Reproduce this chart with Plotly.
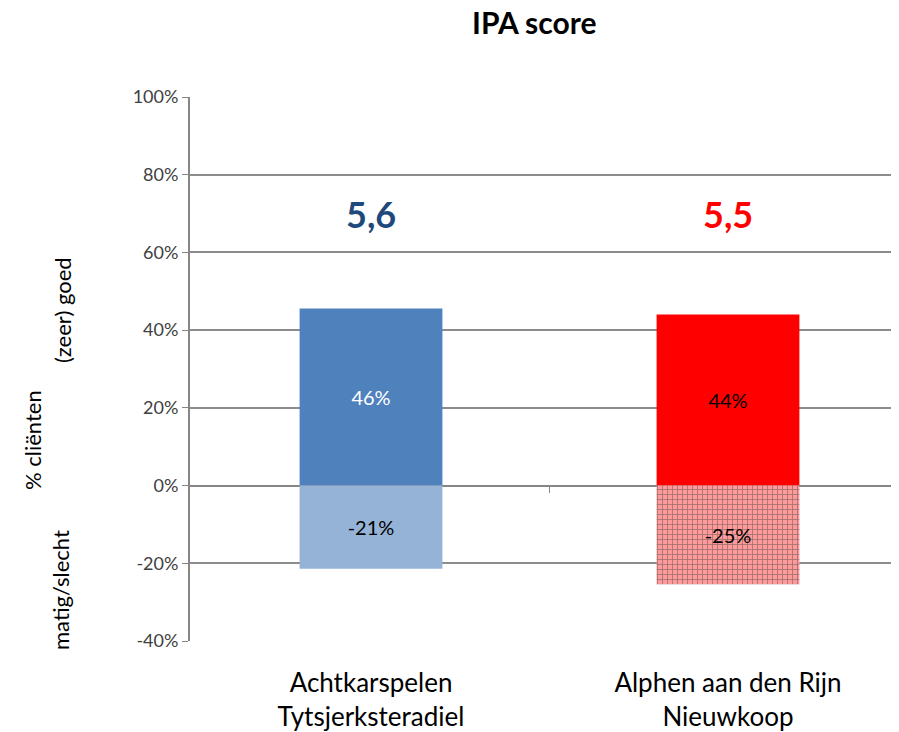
import plotly.graph_objects as go

categories = ["Achtkarspelen<br>Tytsjerksteradiel", "Alphen aan den Rijn<br>Nieuwkoop"]
positive = [45.6, 44.0]
negative = [-21.4, -25.4]
positive_labels = ["46%", "44%"]
negative_labels = ["-21%", "-25%"]
scores = ["5,6", "5,5"]
score_level = [70, 70]
ytick_vals = [-40, -20, 0, 20, 40, 60, 80, 100]
ytick_text = ["-40%", "-20%", "0%", "20%", "40%", "60%", "80%", "100%"]
chart_title = "IPA score"

xpos = list(range(len(categories)))
FONT = "Lato"
W, H = 891, 724

fig = go.Figure()
fig.add_trace(go.Bar(
    x=xpos, y=positive, width=0.4,
    marker=dict(color=["#4F81BD", "#FF0000"], line=dict(width=0)),
    text=positive_labels, textposition="inside", insidetextanchor="middle",
    textfont=dict(family=FONT, size=20, color=["white", "black"]),
    showlegend=False,
))
fig.add_trace(go.Bar(
    x=xpos, y=negative, width=0.4,
    marker=dict(
        color=["#95B3D7", "#FF9A9A"], line=dict(width=0),
        pattern=dict(shape=["", "+"], fgcolor="#FF2020", bgcolor="#FFA8A8", size=5, solidity=0.3),
    ),
    text=negative_labels, textposition="inside", insidetextanchor="middle",
    textfont=dict(family=FONT, size=20, color="black"),
    showlegend=False,
))
# invisible trace to activate the helper axis at the zero line
fig.add_trace(go.Scatter(x=[0.5], y=[0], xaxis="x2", mode="markers",
                         marker=dict(opacity=0), showlegend=False, hoverinfo="skip"))

xr = [-0.507, 1.479]
fig.update_layout(
    width=W, height=H,
    margin=dict(l=182, r=0, t=89, b=91),
    plot_bgcolor="white", paper_bgcolor="white",
    barmode="relative",
    font=dict(family=FONT, color="#404040"),
    xaxis=dict(range=xr, tickvals=xpos, ticktext=categories, showgrid=False, zeroline=False,
               showline=False, ticks="", ticklabelstandoff=24,
               tickfont=dict(family=FONT, size=26, color="black")),
    xaxis2=dict(overlaying="x", anchor="free", position=40 / 140, range=xr, tickvals=[0.5],
                ticks="outside", ticklen=6, tickcolor="#868686", showticklabels=False,
                showgrid=False, zeroline=False, showline=False),
    yaxis=dict(range=[-40, 100], tickvals=ytick_vals, ticktext=ytick_text,
               showgrid=True, gridcolor="#8C8C8C", gridwidth=1.5,
               zeroline=True, zerolinecolor="#868686", zerolinewidth=2,
               showline=True, linecolor="#868686", linewidth=2,
               ticks="outside", ticklen=6, tickcolor="#868686",
               tickfont=dict(family=FONT, size=18, color="#404040")),
)

# chart title as an annotation above the plot area
fig.add_annotation(xref="paper", yref="paper", x=(534 - 190) / 709, y=1 + 75 / 544,
                   text=f"<b>{chart_title}</b>", showarrow=False, xanchor="center", yanchor="middle",
                   font=dict(family=FONT, size=30, color="black"))

for i, s in enumerate(scores):
    fig.add_annotation(x=xpos[i], y=score_level[i], text=f"<b>{s}</b>", showarrow=False,
                       font=dict(family=FONT, size=36, color=["#1F497D", "#FF0000"][i]))

for txt, px, py in [("% cliënten", 32, 440), ("(zeer) goed", 62, 310), ("matig/slecht", 60, 590)]:
    fig.add_annotation(xref="paper", yref="paper", x=(px - 190) / 709, y=(641 - py) / 544,
                       text=txt, textangle=-90, showarrow=False, xanchor="center", yanchor="middle",
                       font=dict(family=FONT, size=22, color="black"))

fig.write_html("out.html")
